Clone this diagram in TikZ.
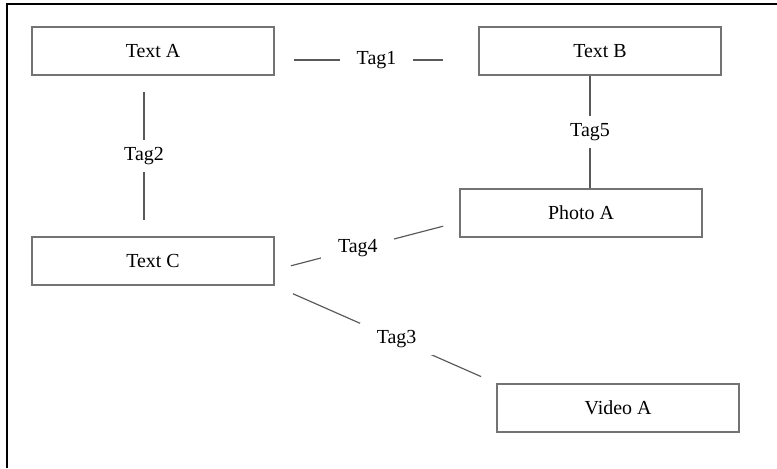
\documentclass[tikz,border=0pt]{standalone}
\usepackage{fontspec}
\setmainfont{Liberation Serif}
\usepackage{tikz}
\usetikzlibrary{calc}

\begin{document}
\begin{tikzpicture}[x=0.03cm, y=-0.03cm, semithick,
    item/.style={draw=black!55, line width=1.2pt, rectangle, minimum width=7.26cm, minimum height=1.44cm, inner sep=0pt, font=\fontsize{17}{20}\selectfont},
    link/.style={draw=black!65, line width=1pt},
    tag/.style={fill=white, inner xsep=0.5cm, inner ysep=0.22cm, font=\fontsize{17}{20}\selectfont}]

  \useasboundingbox (0,0) rectangle (777,468);
  \draw[line width=2.4pt] (7,468) -- (7,4) -- (777,4);

  \node[item] (ta) at (153, 51)  {Text A};
  \node[item] (tb) at (600, 51)  {Text B};
  \node[item] (tc) at (153,261)  {Text C};
  \node[item] (pa) at (581,213)  {Photo A};
  \node[item] (va) at (618,408)  {Video A};

  \draw[link, shorten <=0.57cm, shorten >=1.05cm] ([yshift=-0.27cm]ta.east) -- node[tag] {Tag1} ([yshift=-0.27cm]tb.west);
  \draw[link, shorten <=0.48cm, shorten >=0.48cm] ([xshift=-0.27cm]ta.south) -- node[tag] {Tag2} ([xshift=-0.27cm]tc.north);
  \draw[link] ([xshift=-0.3cm]tb.south) -- node[tag] {Tag5} ([xshift=-0.3cm]tb.south |- pa.north);
  \draw[link, shorten <=0.5cm, shorten >=0.5cm] ([yshift=-0.27cm]tc.east) -- node[tag, pos=0.45] {Tag4} ([yshift=-0.27cm]pa.west);
  \draw[link, shorten <=0.6cm, shorten >=0.5cm] (tc.south east) -- node[tag, pos=0.55] {Tag3} (va.north west);
\end{tikzpicture}
\end{document}
